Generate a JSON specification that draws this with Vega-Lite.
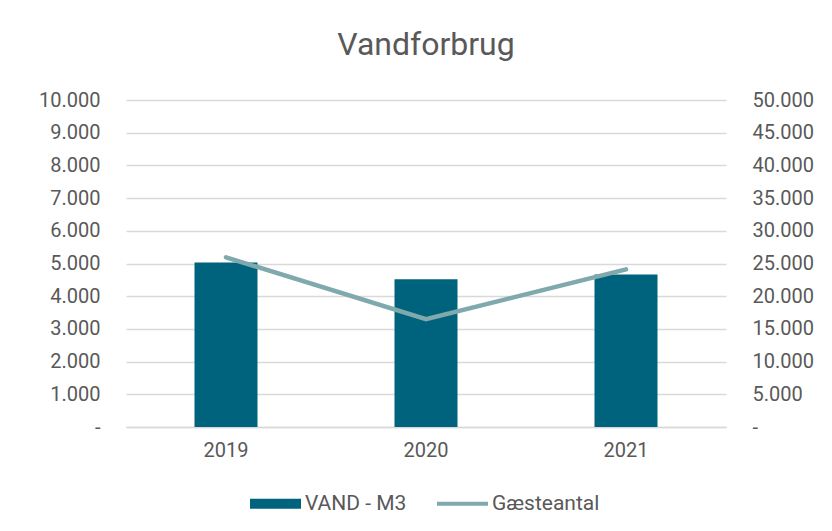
{
  "$schema": "https://vega.github.io/schema/vega-lite/v6.json",
  "width": 600,
  "height": 327,
  "autosize": {"type": "none"},
  "padding": {"left": 126, "top": 100, "right": 106, "bottom": 104},
  "background": "white",
  "title": {"text": "Vandforbrug", "anchor": "middle", "fontSize": 32, "font": "Roboto", "fontWeight": "normal", "color": "#595959", "offset": 28},
  "config": {
    "font": "Roboto",
    "view": {"stroke": null},
    "axis": {"labelFont": "Roboto", "labelFontSize": 20, "labelColor": "#595959", "gridColor": "#d9d9d9", "gridWidth": 1.3, "ticks": false, "domain": false, "title": null},
    "legend": {"labelFont": "Roboto", "labelFontSize": 21, "labelColor": "#595959"}
  },
  "data": {"values": [
    {"year": "2019", "vand": 5030, "gaester": 25950},
    {"year": "2020", "vand": 4520, "gaester": 16500},
    {"year": "2021", "vand": 4660, "gaester": 24100}
  ]},
  "encoding": {
    "x": {"field": "year", "type": "nominal", "scale": {"paddingInner": 0.685, "paddingOuter": 0.3425},
      "axis": {"labelAngle": 0, "domain": true, "domainColor": "#d9d9d9", "domainWidth": 1.3, "labelPadding": 13, "grid": false}}
  },
  "layer": [
    {
      "mark": {"type": "bar"},
      "encoding": {
        "y": {"field": "vand", "type": "quantitative", "scale": {"domain": [0, 10000], "nice": false},
          "axis": {"orient": "left", "values": [0,1000,2000,3000,4000,5000,6000,7000,8000,9000,10000], "grid": true, "labelPadding": 26,
            "labelExpr": "datum.value == 0 ? '-' : replace(format(datum.value, ','), ',', '.')"}},
        "color": {"datum": "VAND - M3", "type": "nominal",
          "scale": {"domain": ["VAND - M3", "Gæsteantal"], "range": ["#00637e", "#7fa9ad"]},
          "legend": {"orient": "none", "legendX": 124, "legendY": 378, "direction": "horizontal", "title": null, "symbolSize": 2601, "labelOffset": 4, "columnPadding": 30,
            "encode": {"symbols": {"update": {
              "shape": {"signal": "datum.value == 'VAND - M3' ? 'M-1,-0.2H1V0.2H-1Z' : 'M-1,-0.075H1V0.075H-1Z'"},
              "fill": {"signal": "scale('color', datum.value)"},
              "stroke": {"value": null},
              "strokeWidth": {"value": 0},
              "opacity": {"value": 1},
              "fillOpacity": {"value": 1}
            }}}}
        }
      }
    },
    {
      "mark": {"type": "line", "strokeWidth": 4.5, "strokeCap": "round"},
      "encoding": {
        "y": {"field": "gaester", "type": "quantitative", "scale": {"domain": [0, 50000], "nice": false},
          "axis": {"orient": "right", "values": [0,5000,10000,15000,20000,25000,30000,35000,40000,45000,50000], "grid": false, "labelPadding": 26,
            "labelExpr": "datum.value == 0 ? '-' : replace(format(datum.value, ','), ',', '.')"}},
        "color": {"datum": "Gæsteantal", "type": "nominal"}
      }
    }
  ],
  "resolve": {"scale": {"y": "independent"}}
}
